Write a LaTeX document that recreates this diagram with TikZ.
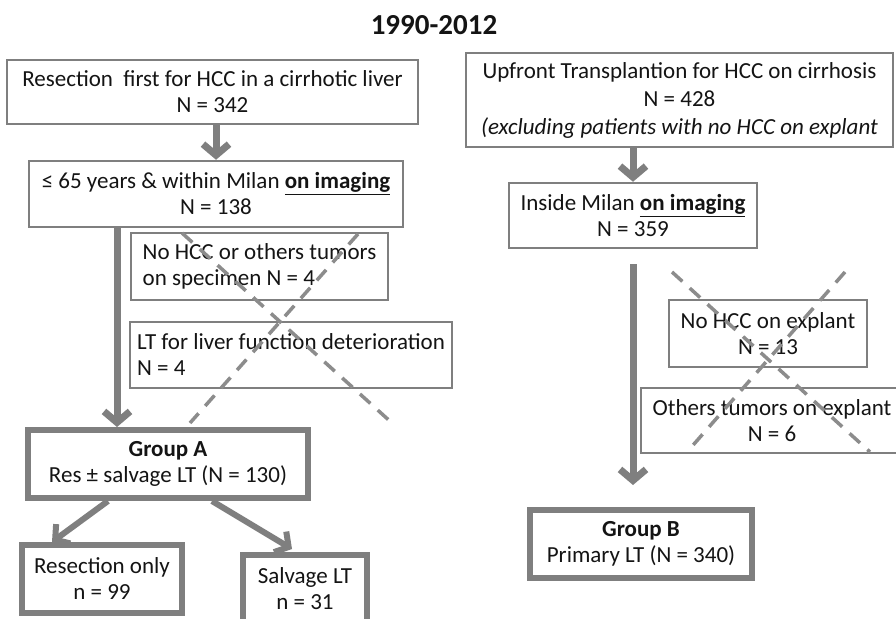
\documentclass[tikz,border=0pt]{standalone}
\usepackage{fontspec}
\setmainfont{Carlito}
\usetikzlibrary{arrows.meta}
\definecolor{edgegray}{HTML}{7F7F7F}
\definecolor{dashgray}{HTML}{8C8C8C}
\begin{document}
\begin{tikzpicture}[x=1pt,y=-1pt,
  every node/.style={font=\fontsize{23}{26}\selectfont, text=black!92},
  box/.style={draw=edgegray, line width=2.5pt, inner sep=0pt, align=center},
  leftbox/.style={box, align=left},
  gbox/.style={draw=edgegray, line width=6pt, inner sep=0pt, align=center},
  arr/.style={draw=edgegray, line width=7pt, -{Straight Barb[length=11pt,width=26pt]}},
  thinarr/.style={draw=edgegray, line width=6pt, -{Straight Barb[length=10pt,width=24pt]}},
  cross/.style={draw=dashgray, line width=3.5pt, dash pattern=on 14pt off 10pt}
]
\useasboundingbox (0,0) rectangle (896,618);
\clip (0,0) rectangle (896,618);
\fill[white] (0,0) rectangle (896,618);

\node[font=\fontsize{29}{32}\selectfont\bfseries] (title) at (434,25) {1990-2012};

% left column
\node[box, minimum width=411pt, minimum height=64pt] (r1) at (212.5,92) {Resection\ \ first for HCC in a cirrhotic liver\\N = 342};
\node[box, minimum width=374pt, minimum height=66pt] (r2) at (216,194) {≤ 65 years \& within Milan \underline{\textbf{on imaging}}\\N = 138};
\node[leftbox, minimum width=257pt, minimum height=67pt] (r3) at (259.5,266.5) {No HCC or others tumors\\on specimen N = 4};
\node[leftbox, minimum width=322pt, minimum height=66pt] (r4) at (291,355) {LT for liver function deterioration\\N = 4};
\node[gbox, minimum width=280pt, minimum height=68pt] (gA) at (168,464) {\textbf{Group A}\\Res ± salvage LT (N = 130)};
\node[gbox, minimum width=160pt, minimum height=68pt] (res) at (102,579) {Resection only\\n = 99};
\node[gbox, minimum width=124pt, minimum height=68pt] (sal) at (305,589) {Salvage LT\\n = 31};

% right column
\node[box, minimum width=427pt, minimum height=94pt, font=\fontsize{23}{28}\selectfont] (up) at (679.5,100) {Upfront Transplantion for HCC on cirrhosis\\N = 428\\\textit{(excluding patients with no HCC on explant}};
\node[box, minimum width=248pt, minimum height=65pt] (milan) at (633,215.5) {Inside Milan \underline{\textbf{on imaging}}\\N = 359};
\node[box, minimum width=198pt, minimum height=67pt] (nohcc) at (768,333.5) {No HCC on explant\\N = 13};
\node[box, minimum width=262pt, minimum height=65pt] (oth) at (772,420.5) {Others tumors on explant\\N = 6};
\node[gbox, minimum width=222pt, minimum height=68pt] (gB) at (641,544) {\textbf{Group B}\\Primary LT (N = 340)};

% connectors
\coordinate (lx) at (117,0);
\draw[arr] (r2.north |- r1.south) -- (r2.north);
\draw[arr] (lx |- r2.south) -- (lx |- gA.north);
\draw[thinarr] ([xshift=-60pt]gA.south) -- ([xshift=-50pt]res.north);
\draw[thinarr] ([xshift=44pt]gA.south) -- ([xshift=-13pt,yshift=3pt]sal.north);
\draw[arr] (milan.north |- up.south) -- (milan.north);
\draw[arr] ([yshift=-15pt]milan.south) -- ([yshift=22pt]milan.south |- gB.north);

% crossed-out exclusions
\draw[cross] (182,233) -- (392,423);
\draw[cross] (358,234) -- (190,423);
\draw[cross] (672,272) -- (870,452);
\draw[cross] (845,272) -- (687,452);
\end{tikzpicture}
\end{document}
